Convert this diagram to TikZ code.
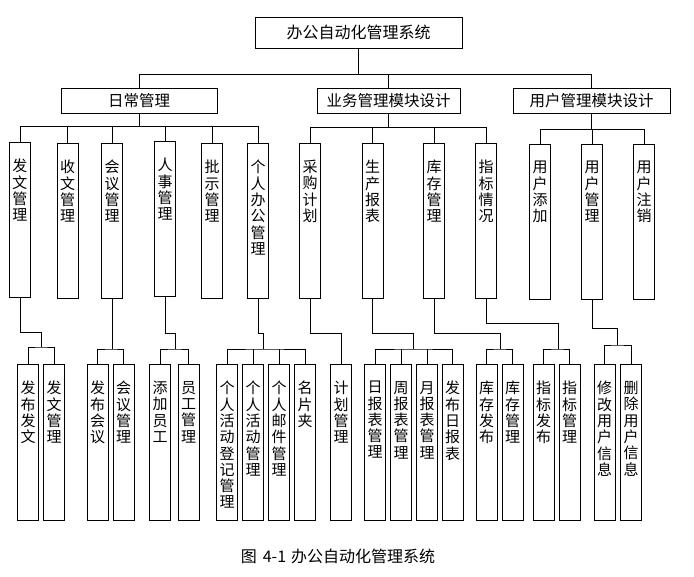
\documentclass[tikz,border=0pt]{standalone}
\usepackage{fontspec}
\setmainfont{Noto Sans CJK SC}
\usetikzlibrary{positioning}

\begin{document}
\begin{tikzpicture}[
    x=1pt,
    y=-1pt,
    link/.style={black, line width=0.8pt},
    headbox/.style={draw, line width=0.8pt, inner sep=0pt, font=\fontsize{15.5}{16}\selectfont},
    colbox/.style={draw, line width=0.8pt, inner sep=0pt, minimum width=21pt, anchor=north},
    coltext/.style={inner sep=0pt, align=center, font=\fontsize{15}{16.3}\selectfont},
    caption/.style={font=\fontsize{16}{18}\selectfont}
]

\useasboundingbox (0,0) rectangle (694,577);

% -------------------------------------------------------------------------
% Top and second level
% -------------------------------------------------------------------------
\node[ headbox, minimum width=207pt, minimum height=31pt,
       font=\fontsize{16}{17}\selectfont ] (sys) at (358.5,32.5) {办公自动化管理系统};

\node[ headbox, minimum width=156pt, minimum height=25pt ] (rcgl) at (139,100.5) {日常管理};
\node[ headbox, minimum width=143pt, minimum height=25pt ] (ywgl) at (388.5,100.5) {业务管理模块设计};
\node[ headbox, minimum width=157pt, minimum height=25pt ] (yhmk) at (591.5,100.5) {用户管理模块设计};

% -------------------------------------------------------------------------
% Third level: name / x / top / text
% -------------------------------------------------------------------------
\foreach \name/\x/\y/\txt in {
    fwgl/20/142/{发\\文\\管\\理},
    swgl/67.5/143/{收\\文\\管\\理},
    hygl/112/143/{会\\议\\管\\理},
    rsgl/165/141/{人\\事\\管\\理},
    psgl/212/143/{批\\示\\管\\理},
    grbg/258/143/{个\\人\\办\\公\\管\\理},
    cgjh/310/143/{采\\购\\计\\划},
    scbb/372.5/143/{生\\产\\报\\表},
    kcgl/434/143/{库\\存\\管\\理},
    zbqk/486/143/{指\\标\\情\\况},
    yhtj/540/144/{用\\户\\添\\加},
    yhgl/592/144/{用\\户\\管\\理},
    yhzx/644/144/{用\\户\\注\\销}}{
    \node[ colbox, minimum height=155pt ] (\name) at (\x,\y) {};
    \node[ coltext, below=17pt of \name.north ] {\txt};
}

% -------------------------------------------------------------------------
% Fourth level: name / x / text
% -------------------------------------------------------------------------
\foreach \name/\x/\txt in {
    fbfw/28/{发\\布\\发\\文},
    fwgl2/54/{发\\文\\管\\理},
    fbhy/97.5/{发\\布\\会\\议},
    hygl2/123.5/{会\\议\\管\\理},
    tjyg/160/{添\\加\\员\\工},
    yggl/188.5/{员\\工\\管\\理},
    grdj/227/{个\\人\\活\\动\\登\\记\\管\\理},
    grhd/253/{个\\人\\活\\动\\管\\理},
    gryj/279/{个\\人\\邮\\件\\管\\理},
    mpj/305/{名\\片\\夹},
    jhgl/341/{计\\划\\管\\理},
    rbb/375/{日\\报\\表\\管\\理},
    zbb/401/{周\\报\\表\\管\\理},
    ybb/427/{月\\报\\表\\管\\理},
    fbrb/452.5/{发\\布\\日\\报\\表},
    kcfb/486.5/{库\\存\\发\\布},
    kcgl2/512.5/{库\\存\\管\\理},
    zbfb/543.5/{指\\标\\发\\布},
    zbgl/569.5/{指\\标\\管\\理},
    xgyh/604.5/{修\\改\\用\\户\\信\\息},
    scyh/631/{删\\除\\用\\户\\信\\息}}{
    \node[ colbox, minimum height=156pt ] (\name) at (\x,364) {};
    \node[ coltext, below=17pt of \name.north ] {\txt};
}

% -------------------------------------------------------------------------
% Links: top to second level
% -------------------------------------------------------------------------
\coordinate (sys-bus) at (0,74);
\draw[ link ] (sys.south) -- (sys.south |- sys-bus);
\draw[ link ] (rcgl.north) |- (sys-bus -| yhmk.north) -- (yhmk.north);
\draw[ link ] (ywgl.north) -- (ywgl.north |- sys-bus);

% -------------------------------------------------------------------------
% Links: second to third level
% -------------------------------------------------------------------------
\coordinate (rc-bus) at (0,126);
\draw[ link ] (rcgl.south) -- (rcgl.south |- rc-bus);
\draw[ link ] (fwgl.north) |- (rc-bus -| grbg.north) -- (grbg.north);
\foreach \c in {swgl,hygl,rsgl,psgl}
    \draw[ link ] (\c.north) -- (\c.north |- rc-bus);

\coordinate (yw-bus) at (0,127);
\draw[ link ] (ywgl.south) -- (ywgl.south |- yw-bus);
\draw[ link ] (cgjh.north) |- (yw-bus -| zbqk.north) -- (zbqk.north);
\foreach \c in {scbb,kcgl}
    \draw[ link ] (\c.north) -- (\c.north |- yw-bus);

\coordinate (yh-bus) at (0,129);
\draw[ link ] (yhmk.south) -- (yhmk.south |- yh-bus);
\draw[ link ] (yhtj.north) |- (yh-bus -| yhzx.north) -- (yhzx.north);
\draw[ link ] (yhgl.north) -- (yhgl.north |- yh-bus);

% -------------------------------------------------------------------------
% Links: third to fourth level (parent / first / last / joint x / knee / bus)
% -------------------------------------------------------------------------
\foreach \p/\a/\b/\jx/\ky/\by in {
    fwgl/fbfw/fwgl2/41/332/347,
    hygl/fbhy/hygl2/112/349/349,
    rsgl/tjyg/yggl/175/333/349,
    grbg/grdj/mpj/263/333/349,
    scbb/rbb/fbrb/413/333/349,
    kcgl/kcfb/kcgl2/500/333/349,
    zbqk/zbfb/zbgl/558/323/349,
    yhgl/xgyh/scyh/617/328/345}{
    \draw[ link ] (\p.south) |- (\jx,\ky) -- (\jx,\by);
    \draw[ link ] (\a.north) |- (\jx,\by) -| (\b.north);
}
\foreach \c in {grhd,gryj,zbb,ybb}
    \draw[ link ] (\c.north) -- ++(0,-15);

\draw[ link ] (cgjh.south) -- ++(0,35) -| (jhgl.north);

% -------------------------------------------------------------------------
% Caption
% -------------------------------------------------------------------------
\node[ caption ] (fig-caption) at (338,556) {图\hspace{6pt}4-1\hspace{5pt}办公自动化管理系统};

\end{tikzpicture}
\end{document}
